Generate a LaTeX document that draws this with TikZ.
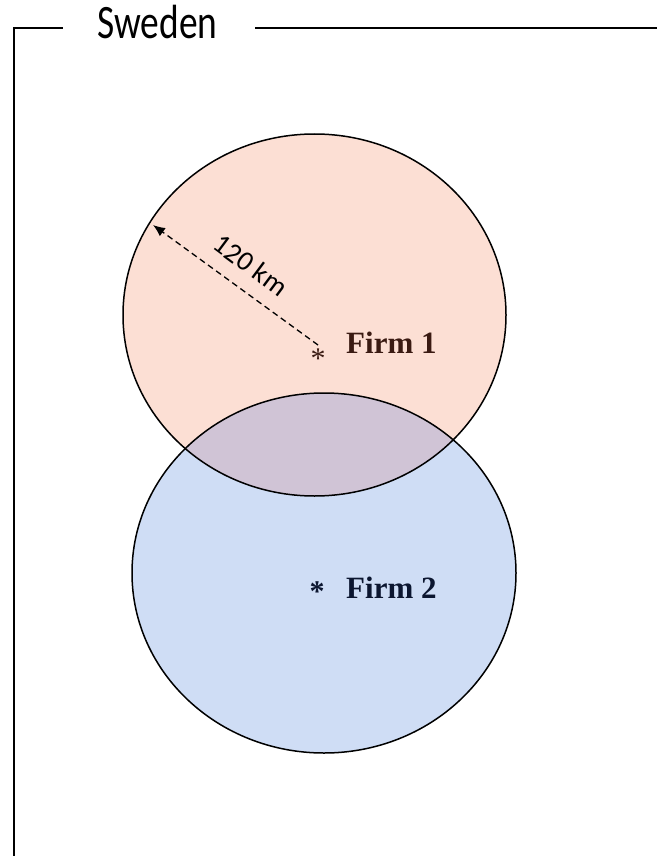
\documentclass[tikz,border=0pt]{standalone}
\usepackage{fontspec}
\setmainfont{Liberation Serif}
\newfontfamily\calib{Carlito}
\usetikzlibrary{arrows.meta}
\definecolor{pinkc}{HTML}{FCDFD4}
\definecolor{bluec}{HTML}{CFDDF5}
\definecolor{lensc}{HTML}{D0C4D6}
\definecolor{firmone}{HTML}{3A1A12}
\definecolor{firmtwo}{HTML}{0C1630}
\tikzset{
  frame/.style={line width=2pt, black},
  rim/.style={line width=1.5pt, black},
  firmlabel/.style={anchor=base west, inner sep=0pt, font=\bfseries\fontsize{31}{31}\selectfont},
  starmark/.style={anchor=base, inner sep=0pt},
  radius arrow/.style={line width=1.3pt, dash pattern=on 6pt off 4pt, -{Latex[length=12pt,width=10pt]}}
}
\begin{document}
\begin{tikzpicture}[x=1pt,y=-1pt]
\useasboundingbox (0,0) rectangle (657,856);
% fills
\fill[pinkc] (314.5,315) ellipse [x radius=191.5pt, y radius=181pt];
\fill[bluec] (324,573) ellipse [x radius=192pt, y radius=180pt];
\begin{scope}
  \clip (314.5,315) ellipse [x radius=191.5pt, y radius=181pt];
  \fill[lensc] (324,573) ellipse [x radius=192pt, y radius=180pt];
\end{scope}
% outlines
\draw[rim] (314.5,315) ellipse [x radius=191.5pt, y radius=181pt];
\draw[rim] (324,573) ellipse [x radius=192pt, y radius=180pt];
\node[inner sep=0pt, minimum width=383pt, minimum height=362pt] (zone1) at (314.5,315) {};
\node[inner sep=0pt, minimum width=384pt, minimum height=360pt] (zone2) at (324,573) {};
% frame
\node[anchor=base, inner sep=0pt, font=\calib\fontsize{48}{48}\selectfont] (sweden) at (157.5,39) {\scalebox{0.78}[1]{Sweden}};
\coordinate (fa) at (14,856);
\coordinate (fb) at (14,28);
\coordinate (fc) at (63,28);
\coordinate (fd) at (255,28);
\coordinate (fe) at (657,28);
\draw[frame] (fa) -- (fb) -- (fc);
\draw[frame] (fd) -- (fe);
% firms
\node[starmark, font=\fontsize{30}{30}\selectfont, text=firmone] (s1) at (318,368) {*};
\node[firmlabel, text=firmone] (f1) at (346,353) {Firm 1};
\node[starmark, font=\bfseries\fontsize{30}{30}\selectfont, text=firmtwo] (s2) at (317,601) {*};
\node[firmlabel, text=firmtwo] (f2) at (346,598) {Firm 2};
% radius arrow
\coordinate (ra) at (318,345);
\coordinate (tip) at (153,225);
\draw[radius arrow] (ra) -- (tip);
\node[rotate=-36.7, inner sep=0pt, font=\calib\fontsize{28}{28}\selectfont] (km) at (251,265) {120 km};
\end{tikzpicture}
\end{document}
